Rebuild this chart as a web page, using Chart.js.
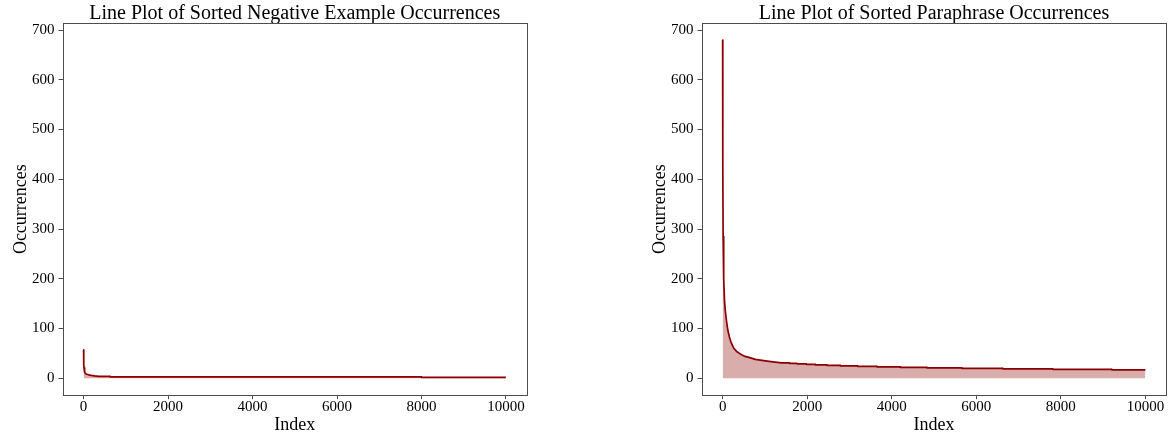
<!DOCTYPE html>
<html>
<head>
<meta charset="utf-8">
<script src="https://cdn.jsdelivr.net/npm/chart.js@4.4.1/dist/chart.umd.min.js"></script>
<style>
  html, body { margin: 0; padding: 0; background: #ffffff; }
  body { width: 1168px; height: 437px; position: relative; overflow: hidden; }
  .panel { position: absolute; top: 0; height: 437px; }
  #negPanel { left: 0; width: 584px; }
  #paraPanel { left: 639px; width: 529px; }
</style>
</head>
<body>
<div class="panel" id="negPanel"><canvas id="negChart" width="584" height="437"></canvas></div>
<div class="panel" id="paraPanel"><canvas id="paraChart" width="529" height="437"></canvas></div>
<script>
// Sorted occurrence counts (index in the sorted list -> count)
const negIndex = [0, 2, 5, 10, 18, 30, 50, 80, 120, 180, 260, 360, 622, 623, 7999, 8000, 9999];
const negCount = [57, 40, 28, 21, 16, 12, 9, 8, 7, 6, 5, 4, 4, 3, 3, 2, 2];

const paraIndex = [
  0, 4, 12, 25, 45, 64, 90, 120, 160, 200,
  260, 330, 400, 459, 530, 620, 700, 773, 850, 930, 1010, 1100, 1190, 1290, 1400,
  1583, 1584, 1758, 1759, 1978, 1979, 2191, 2192, 2467, 2468, 2781, 2782,
  3190, 3191, 3649, 3650, 4200, 4201, 4831, 4832, 5659, 5660, 6628, 6629,
  7810, 7811, 9205, 9206, 9999
];
const paraCount = [
  680, 425, 285, 200, 155, 135, 116, 98, 83, 72,
  61, 54, 50, 47, 44, 42, 40, 38, 37, 36, 35, 34, 33, 32, 31,
  31, 30, 30, 29, 29, 28, 28, 27, 27, 26, 26, 25,
  25, 24, 24, 23, 23, 22, 22, 21, 21, 20, 20, 19,
  19, 18, 18, 17, 17
];

const xTickValues = [0, 2000, 4000, 6000, 8000, 10000];
const yTickValues = [0, 100, 200, 300, 400, 500, 600, 700];

const negTitle = 'Line Plot of Sorted Negative Example Occurrences';
const paraTitle = 'Line Plot of Sorted Paraphrase Occurrences';
const xLabel = 'Index';
const yLabel = 'Occurrences';

const FONT = "'Liberation Serif', 'DejaVu Serif', serif";
const LINE = '#8b0000';
const AREA = 'rgba(139, 0, 0, 0.32)';
const SPINE = '#4d4d4d';

// shared limits with 5% margins, both panels use the same count axis
const lastIndex = Math.max(negIndex[negIndex.length - 1], paraIndex[paraIndex.length - 1]);
const maxCount = Math.max(...negCount, ...paraCount);
const xPad = 0.05 * lastIndex;
const yPad = 0.05 * maxCount;

const framePlugin = {
  id: 'frame',
  afterDatasetsDraw(chart) {
    const { ctx, chartArea: a } = chart;
    ctx.save();
    ctx.strokeStyle = SPINE;
    ctx.lineWidth = 1;
    ctx.strokeRect(Math.round(a.left) + 0.5, Math.round(a.top) + 0.5,
                   Math.round(a.right - a.left) - 1, Math.round(a.bottom - a.top));
    ctx.restore();
  }
};

function makeChart(canvasId, title, idx, counts, padRight) {
  const points = idx.map((x, i) => ({ x: x, y: counts[i] }));
  return new Chart(document.getElementById(canvasId), {
    type: 'line',
    data: {
      datasets: [{
        data: points,
        borderColor: LINE,
        borderWidth: 1.7,
        backgroundColor: AREA,
        fill: 'origin',
        pointRadius: 0,
        tension: 0,
        borderJoinStyle: 'round'
      }]
    },
    options: {
      responsive: false,
      animation: false,
      layout: { padding: { left: 0, right: padRight, top: 0, bottom: 0 } },
      plugins: {
        legend: { display: false },
        tooltip: { enabled: false },
        title: {
          display: true,
          text: title,
          fullSize: false,
          color: '#000',
          font: { family: FONT, size: 20, weight: 'normal', lineHeight: 0.9 },
          padding: { top: 5, bottom: 0.1 }
        }
      },
      scales: {
        x: {
          type: 'linear',
          min: -xPad,
          max: lastIndex + xPad,
          afterBuildTicks(s) { s.ticks = xTickValues.map(v => ({ value: v })); },
          afterFit(s) { s.height = 41.8; },
          ticks: {
            color: '#000',
            padding: 0,
            maxRotation: 0,
            font: { family: FONT, size: 15, lineHeight: 1.0 },
            callback: v => String(v)
          },
          grid: { drawOnChartArea: false, drawTicks: true, tickLength: 4, tickColor: SPINE, tickWidth: 1 },
          border: { display: false },
          title: {
            display: true, text: xLabel, color: '#000',
            font: { family: FONT, size: 18, lineHeight: 1.2 },
            padding: { top: 0, bottom: 0.5 }
          }
        },
        y: {
          type: 'linear',
          min: -yPad,
          max: maxCount + yPad,
          afterBuildTicks(s) { s.ticks = yTickValues.map(v => ({ value: v })); },
          afterFit(s) { s.width = 62.5; },
          ticks: {
            color: '#000',
            padding: 4,
            font: { family: FONT, size: 15, lineHeight: 1.0 },
            callback: v => String(v)
          },
          grid: { drawOnChartArea: false, drawTicks: true, tickLength: 4, tickColor: SPINE, tickWidth: 1 },
          border: { display: false },
          title: {
            display: true, text: yLabel, color: '#000',
            font: { family: FONT, size: 18, lineHeight: 1.2 },
            padding: { top: 10, bottom: 0 }
          }
        }
      }
    },
    plugins: [framePlugin]
  });
}

makeChart('negChart', negTitle, negIndex, negCount, 57);
makeChart('paraChart', paraTitle, paraIndex, paraCount, 1.5);
</script>
</body>
</html>
